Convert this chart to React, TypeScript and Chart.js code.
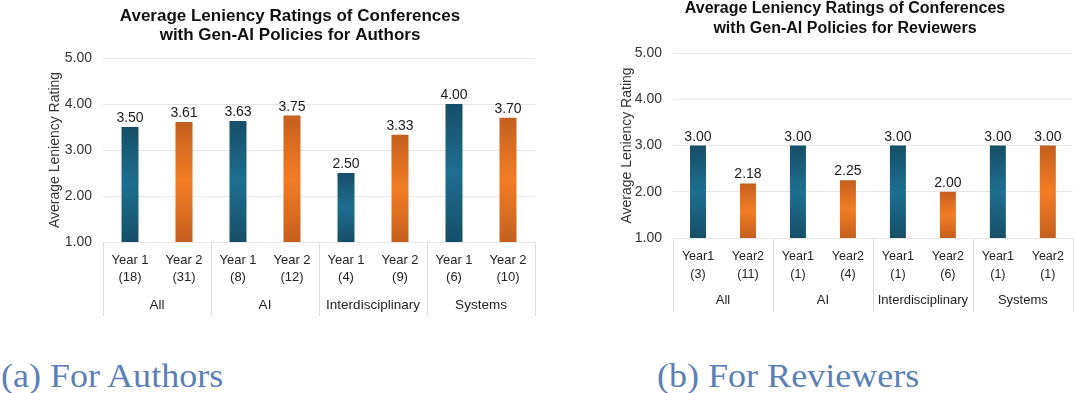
import { useEffect, useRef } from 'react';
import { Chart, registerables } from 'chart.js';

Chart.register(...registerables);

const FONT = '"Liberation Sans", Arial, Helvetica, sans-serif';
Chart.defaults.font.family = FONT;

// ---------- data ----------
const groups = ['All', 'AI', 'Interdisciplinary', 'Systems'];

const authorsYear1 = [3.5, 3.63, 2.5, 4.0];
const authorsYear2 = [3.61, 3.75, 3.33, 3.7];
const authorsTickLabels = [
  ['Year 1', '(18)'], ['Year 2', '(31)'],
  ['Year 1', '(8)'], ['Year 2', '(12)'],
  ['Year 1', '(4)'], ['Year 2', '(9)'],
  ['Year 1', '(6)'], ['Year 2', '(10)'],
];

const reviewersYear1 = [3.0, 3.0, 3.0, 3.0];
const reviewersYear2 = [2.18, 2.25, 2.0, 3.0];
const reviewersTickLabels = [
  ['Year1', '(3)'], ['Year2', '(11)'],
  ['Year1', '(1)'], ['Year2', '(4)'],
  ['Year1', '(1)'], ['Year2', '(6)'],
  ['Year1', '(1)'], ['Year2', '(1)'],
];

const authorsTitle = ['Average Leniency Ratings of Conferences', 'with Gen-AI Policies for Authors'];
const reviewersTitle = ['Average Leniency Ratings of Conferences', 'with Gen-AI Policies for Reviewers'];
const yAxisTitle = 'Average Leniency Rating';

const TEAL = ['#164e68', '#1e6f90', '#164e68'];
const ORANGE = ['#c55f1e', '#f27d25', '#c55f1e'];

type Spec = {
  labels: string[][];
  y1: number[];
  y2: number[];
  title: string[];
  titleSize: number;
  titleLH: number;
  titlePad: { top: number; bottom: number };
  pad: { left: number; right: number; top: number; bottom: number };
  yWidth: number;
  xHeight: number;
  x2Height: number;
  xPad: number;
  xLH: number;
  xFont: number;
  x2Pad: number;
  x2LH: number;
  x2Font: number;
  barPct: number;
};

const decorPlugin = {
  id: 'decor',
  afterDatasetsDraw(chart: any) {
    const ctx = chart.ctx;
    const meta = chart.getDatasetMeta(0);
    const data = chart.data.datasets[0].data as number[];
    ctx.save();
    ctx.font = `14px ${FONT}`;
    ctx.fillStyle = '#1a1a1a';
    ctx.textAlign = 'center';
    ctx.textBaseline = 'alphabetic';
    meta.data.forEach((bar: any, i: number) => {
      ctx.fillText(data[i].toFixed(2), bar.x, bar.y - 5);
    });
    const x2 = chart.scales.x2;
    ctx.strokeStyle = '#dcdcdc';
    ctx.lineWidth = 1;
    for (let i = 0; i <= groups.length; i++) {
      const px = Math.round(x2.getPixelForValue(i - 0.5)) + 0.5;
      ctx.beginPath();
      ctx.moveTo(px, chart.chartArea.bottom);
      ctx.lineTo(px, x2.bottom);
      ctx.stroke();
    }
    ctx.restore();
  },
};

function makeConfig(s: Spec): any {
  const values = groups.flatMap((_, i) => [s.y1[i], s.y2[i]]);
  const grad = (c: any) => {
    const chart = c.chart;
    const stops = c.dataIndex % 2 === 0 ? TEAL : ORANGE;
    if (!chart.chartArea || c.raw == null) return stops[1];
    const y = chart.scales.y;
    const top = y.getPixelForValue(c.raw);
    const bottom = y.getPixelForValue(y.min);
    if (!isFinite(top) || !isFinite(bottom) || bottom - top < 1) return stops[1];
    const g = chart.ctx.createLinearGradient(0, top, 0, bottom);
    g.addColorStop(0, stops[0]);
    g.addColorStop(0.5, stops[1]);
    g.addColorStop(1, stops[2]);
    return g;
  };
  return {
    type: 'bar',
    data: {
      labels: s.labels,
      datasets: [
        {
          data: values,
          backgroundColor: grad,
          borderWidth: 0,
          barPercentage: s.barPct,
          categoryPercentage: 1,
        },
      ],
    },
    options: {
      responsive: false,
      animation: false,
      layout: { padding: s.pad },
      plugins: {
        legend: { display: false },
        tooltip: { enabled: false },
        title: {
          display: true,
          text: s.title,
          color: '#111',
          font: { size: s.titleSize, weight: 'bold', lineHeight: s.titleLH / s.titleSize },
          padding: s.titlePad,
        },
      },
      scales: {
        y: {
          min: 1,
          max: 5,
          ticks: {
            stepSize: 1,
            padding: 11,
            color: '#333',
            font: { size: 14 },
            callback: (v: number) => Number(v).toFixed(2),
          },
          grid: { color: '#e6e6e6', drawTicks: false },
          border: { display: false },
          title: {
            display: true,
            text: yAxisTitle,
            color: '#333',
            font: { size: 14, lineHeight: 1.2 },
            padding: { top: 2, bottom: 0 },
          },
          afterFit: (sc: any) => {
            sc.width = s.yWidth;
          },
        },
        x: {
          position: 'bottom',
          offset: true,
          grid: { display: false, drawTicks: false },
          border: { display: false },
          ticks: {
            autoSkip: false,
            maxRotation: 0,
            padding: s.xPad,
            color: '#222',
            font: { size: s.xFont, lineHeight: s.xLH / s.xFont },
          },
          afterFit: (sc: any) => {
            sc.height = s.xHeight;
          },
        },
        x2: {
          type: 'category',
          labels: groups,
          position: 'bottom',
          offset: true,
          grid: { display: false, drawTicks: false },
          border: { display: false },
          ticks: {
            autoSkip: false,
            maxRotation: 0,
            padding: s.x2Pad,
            color: '#222',
            font: { size: s.x2Font, lineHeight: s.x2LH / s.x2Font },
          },
          afterFit: (sc: any) => {
            sc.height = s.x2Height;
          },
        },
      },
    },
    plugins: [decorPlugin],
  };
}

const leftSpec: Spec = {
  labels: authorsTickLabels,
  y1: authorsYear1,
  y2: authorsYear2,
  title: authorsTitle,
  titleSize: 17,
  titleLH: 19,
  titlePad: { top: 6.5, bottom: 13.5 },
  pad: { left: 9, right: 5, top: 0, bottom: 14 },
  yWidth: 58,
  xHeight: 44,
  x2Height: 30,
  xPad: 9.5,
  xLH: 17,
  xFont: 13,
  x2Pad: 11,
  x2LH: 16,
  x2Font: 13.5,
  barPct: 0.315,
};

const rightSpec: Spec = {
  labels: reviewersTickLabels,
  y1: reviewersYear1,
  y2: reviewersYear2,
  title: reviewersTitle,
  titleSize: 16,
  titleLH: 20,
  titlePad: { top: -1.5, bottom: 14.5 },
  pad: { left: 9, right: 1, top: 0, bottom: 18 },
  yWidth: 56,
  xHeight: 44,
  x2Height: 30,
  xPad: 10,
  xLH: 18,
  xFont: 12.5,
  x2Pad: 10,
  x2LH: 16,
  x2Font: 13,
  barPct: 0.32,
};

export default function App() {
  const leftRef = useRef<HTMLCanvasElement>(null);
  const rightRef = useRef<HTMLCanvasElement>(null);

  useEffect(() => {
    const a = new Chart(leftRef.current!, makeConfig(leftSpec));
    const b = new Chart(rightRef.current!, makeConfig(rightSpec));
    return () => {
      a.destroy();
      b.destroy();
    };
  }, []);

  const caption: any = {
    position: 'absolute',
    top: 358.5,
    fontFamily: '"Liberation Serif", "Times New Roman", serif',
    fontSize: 34,
    lineHeight: '34px',
    color: '#5b80b6',
    whiteSpace: 'nowrap',
    transform: 'scaleX(1.06)',
    transformOrigin: 'left top',
  };

  return (
    <div style={{ position: 'fixed', left: 0, top: 0, width: 1074, height: 393, background: '#fff', overflow: 'hidden' }}>
      <canvas ref={leftRef} width={504} height={330} style={{ position: 'absolute', left: 36, top: 0, width: 504, height: 330 }} />
      <canvas ref={rightRef} width={466} height={330} style={{ position: 'absolute', left: 608, top: 0, width: 466, height: 330 }} />
      <div style={{ ...caption, left: 1 }}>(a) For Authors</div>
      <div style={{ ...caption, left: 657 }}>(b) For Reviewers</div>
    </div>
  );
}
